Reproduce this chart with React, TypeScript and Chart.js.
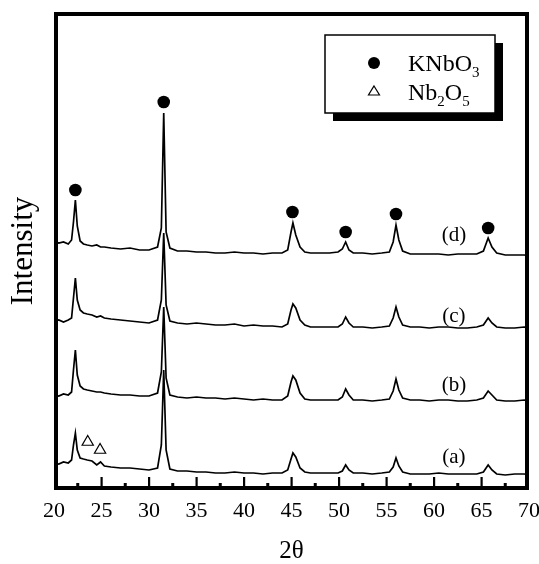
import React, { useEffect, useRef } from 'react';
import { Chart, registerables } from 'chart.js';

Chart.register(...registerables);

// 2θ sampling positions (degrees)
const twoTheta = [
  20, 20.5, 21, 21.5, 21.85,
  22.05, 22.25, 22.45, 22.75, 23.1,
  23.5, 24.0, 24.5, 24.9, 25.3,
  26, 27, 28, 29, 30,
  30.9, 31.3, 31.55, 31.8, 32.2,
  33, 34, 35, 36, 37,
  38, 39, 40, 41, 42,
  43, 44, 44.6, 44.95, 45.15,
  45.45, 45.9, 46.4, 47, 48,
  49, 49.9, 50.35, 50.7, 51.05,
  51.5, 52.5, 53.5, 54.5, 55.3,
  55.7, 56.0, 56.3, 56.7, 57.5,
  58.5, 59.5, 60.5, 61.5, 62.5,
  63.5, 64.5, 65.2, 65.7, 66.1,
  66.6, 67.5, 68.5, 69.5, 70,
];

// Intensity (arbitrary units, stacked traces)
const intensityA = [
  27, 26, 28, 27, 30,
  45, 57, 40, 32, 31,
  30, 29, 25, 28, 24,
  23, 22, 22, 21, 20,
  22, 45, 120, 40, 21,
  19, 19, 18, 18, 17,
  17, 18, 17, 17, 16,
  17, 17, 20, 31, 37,
  33, 22, 18, 17, 17,
  17, 17, 19, 25, 20,
  17, 17, 16, 17, 18,
  23, 32, 24, 18, 16,
  16, 16, 17, 16, 16,
  16, 16, 18, 25, 20,
  16, 15, 16, 16, 15,
];

const intensityB = [
  95, 94, 96, 95, 98,
  120, 140, 115, 104, 101,
  100, 99, 98, 98, 97,
  96, 95, 95, 94, 94,
  97, 118, 183, 112, 95,
  93, 92, 93, 92, 92,
  91, 92, 91, 90, 91,
  90, 90, 94, 108, 114,
  110, 97, 91, 90, 90,
  90, 90, 93, 101, 95,
  90, 90, 89, 90, 91,
  99, 111, 100, 92, 90,
  90, 89, 90, 90, 89,
  89, 90, 92, 99, 95,
  90, 89, 89, 90, 89,
];

const intensityC = [
  169, 170, 168, 170, 172,
  192, 212, 190, 180, 177,
  176, 175, 173, 174, 172,
  171, 170, 169, 168, 167,
  170, 190, 257, 185, 169,
  167, 166, 167, 166, 165,
  165, 166, 164, 165, 164,
  164, 163, 166, 180, 186,
  182, 170, 165, 163, 163,
  163, 163, 166, 173, 167,
  163, 163, 162, 163, 164,
  172, 183, 173, 165, 163,
  163, 162, 163, 163, 162,
  162, 163, 165, 172, 167,
  163, 162, 162, 163, 162,
];

const intensityD = [
  249, 247, 248, 246, 250,
  268, 290, 264, 249, 246,
  245, 244, 245, 243, 243,
  242, 241, 242, 240, 240,
  243, 262, 377, 258, 242,
  239, 239, 238, 238, 237,
  237, 238, 237, 237, 236,
  237, 237, 240, 258, 267,
  255, 243, 238, 237, 237,
  237, 238, 241, 248, 240,
  237, 237, 236, 237, 238,
  248, 265, 250, 239, 236,
  236, 236, 236, 235, 236,
  236, 236, 239, 252, 243,
  237, 235, 235, 235, 234,
];

// Phase markers
const kNbO3Theta = [22.25, 31.55, 45.1, 50.7, 56.0, 65.7];
const kNbO3Level = [300, 388, 278, 258, 276, 262];
const nb2o5Theta = [23.55, 24.85];
const nb2o5Level = [48, 40];

// Trace labels
const sampleLabels = ['(a)', '(b)', '(c)', '(d)'];
const sampleLabelLevels = [33, 105, 174, 255];
const sampleLabelTheta = 62.1;

const FONT = "'Liberation Serif', 'Times New Roman', serif";

export default function App() {
  const ref = useRef<HTMLCanvasElement>(null);

  useEffect(() => {
    document.body.style.margin = '0';
    const canvas = ref.current!;
    const traces = [intensityA, intensityB, intensityC, intensityD];
    const datasets: any[] = traces.map((arr, i) => ({
      label: sampleLabels[i],
      data: twoTheta.map((t, j) => ({ x: t, y: arr[j] })),
      borderColor: '#000',
      borderWidth: 1.7,
      pointRadius: 0,
      tension: 0,
      fill: false,
    }));
    datasets.push({
      label: 'KNbO3',
      data: kNbO3Theta.map((t, j) => ({ x: t, y: kNbO3Level[j] })),
      showLine: false,
      pointStyle: 'circle',
      pointRadius: 6.3,
      backgroundColor: '#000',
      borderColor: '#000',
      borderWidth: 0,
    });
    datasets.push({
      label: 'Nb2O5',
      data: nb2o5Theta.map((t, j) => ({ x: t, y: nb2o5Level[j] })),
      showLine: false,
      pointStyle: 'triangle',
      pointRadius: 6.5,
      backgroundColor: '#fff',
      borderColor: '#000',
      borderWidth: 1.2,
    });

    const drawFormula = (ctx: CanvasRenderingContext2D, parts: [string, boolean][], x: number, y: number) => {
      let cx = x;
      for (const [txt, sub] of parts) {
        ctx.font = sub ? `15px ${FONT}` : `24px ${FONT}`;
        ctx.fillText(txt, cx, sub ? y + 6 : y);
        cx += ctx.measureText(txt).width;
      }
    };

    const overlay = {
      id: 'overlay',
      afterDatasetsDraw(chart: any) {
        const { ctx, chartArea, scales } = chart;
        const { left, top, right, bottom } = chartArea;
        const xs = scales.x;
        const ys = scales.y;
        ctx.save();
        ctx.fillStyle = '#000';
        // inward bottom ticks
        for (let v = 22.5; v < 70; v += 2.5) {
          const px = xs.getPixelForValue(v);
          const major = Math.abs(v % 5) < 1e-6;
          if (major) ctx.fillRect(px - 1, bottom - 13, 2.2, 13);
          else ctx.fillRect(px - 1.5, bottom - 7, 3, 7);
        }
        // frame
        ctx.strokeStyle = '#000';
        ctx.lineWidth = 4;
        ctx.strokeRect(left + 2, top + 2, right - left - 4, bottom - top - 4);
        // sample labels
        ctx.font = `21px ${FONT}`;
        ctx.textAlign = 'center';
        ctx.textBaseline = 'middle';
        sampleLabels.forEach((lab, i) => {
          ctx.fillText(lab, xs.getPixelForValue(sampleLabelTheta), ys.getPixelForValue(sampleLabelLevels[i]));
        });
        ctx.restore();
      },
      afterDraw(chart: any) {
        const ctx: CanvasRenderingContext2D = chart.ctx;
        ctx.save();
        const bx = 325, by = 35, bw = 170, bh = 78;
        ctx.fillStyle = '#000';
        ctx.fillRect(bx + 8, by + 8, bw, bh);
        ctx.fillStyle = '#fff';
        ctx.fillRect(bx, by, bw, bh);
        ctx.strokeStyle = '#000';
        ctx.lineWidth = 1.5;
        ctx.strokeRect(bx, by, bw, bh);
        // circle marker
        ctx.fillStyle = '#000';
        ctx.beginPath();
        ctx.arc(374, 63, 6, 0, Math.PI * 2);
        ctx.fill();
        // triangle marker
        ctx.beginPath();
        ctx.moveTo(374, 86);
        ctx.lineTo(379.5, 95);
        ctx.lineTo(368.5, 95);
        ctx.closePath();
        ctx.fillStyle = '#fff';
        ctx.fill();
        ctx.lineWidth = 1.2;
        ctx.stroke();
        ctx.fillStyle = '#000';
        ctx.textAlign = 'left';
        ctx.textBaseline = 'alphabetic';
        drawFormula(ctx, [['KNbO', false], ['3', true]], 408, 71);
        drawFormula(ctx, [['Nb', false], ['2', true], ['O', false], ['5', true]], 408, 100);
        ctx.restore();
      },
    };

    const chart = new Chart(canvas, {
      type: 'line',
      data: { datasets },
      options: {
        animation: false,
        responsive: false,
        devicePixelRatio: 1,
        layout: { padding: { top: 12, right: 10, left: 0, bottom: 0 } },
        plugins: { legend: { display: false }, tooltip: { enabled: false } },
        scales: {
          x: {
            type: 'linear',
            min: 20,
            max: 70,
            ticks: {
              stepSize: 5,
              font: { family: FONT, size: 22 },
              color: '#000',
              padding: 8,
              maxRotation: 0,
              autoSkip: false,
            },
            grid: { display: false, drawTicks: false },
            border: { display: false },
            title: {
              display: true,
              text: '2θ',
              font: { family: FONT, size: 25, lineHeight: 1 },
              color: '#000',
              padding: { top: 0, bottom: 0 },
            },
            afterFit(s: any) {
              s.height = 74;
              s.paddingLeft = 0;
              s.paddingRight = 0;
            },
          },
          y: {
            type: 'linear',
            min: 0,
            max: 478,
            ticks: { display: false },
            grid: { display: false, drawTicks: false },
            border: { display: false },
            title: {
              display: true,
              text: 'Intensity',
              font: { family: FONT, size: 31, lineHeight: 1 },
              color: '#000',
              padding: { top: 8.5, bottom: 0 },
            },
            afterFit(s: any) {
              s.width = 54;
            },
          },
        },
      } as any,
      plugins: [overlay],
    });
    return () => chart.destroy();
  }, []);

  return (
    <div style={{ width: 539, height: 564 }}>
      <canvas ref={ref} width={539} height={564} style={{ display: 'block' }} />
    </div>
  );
}
